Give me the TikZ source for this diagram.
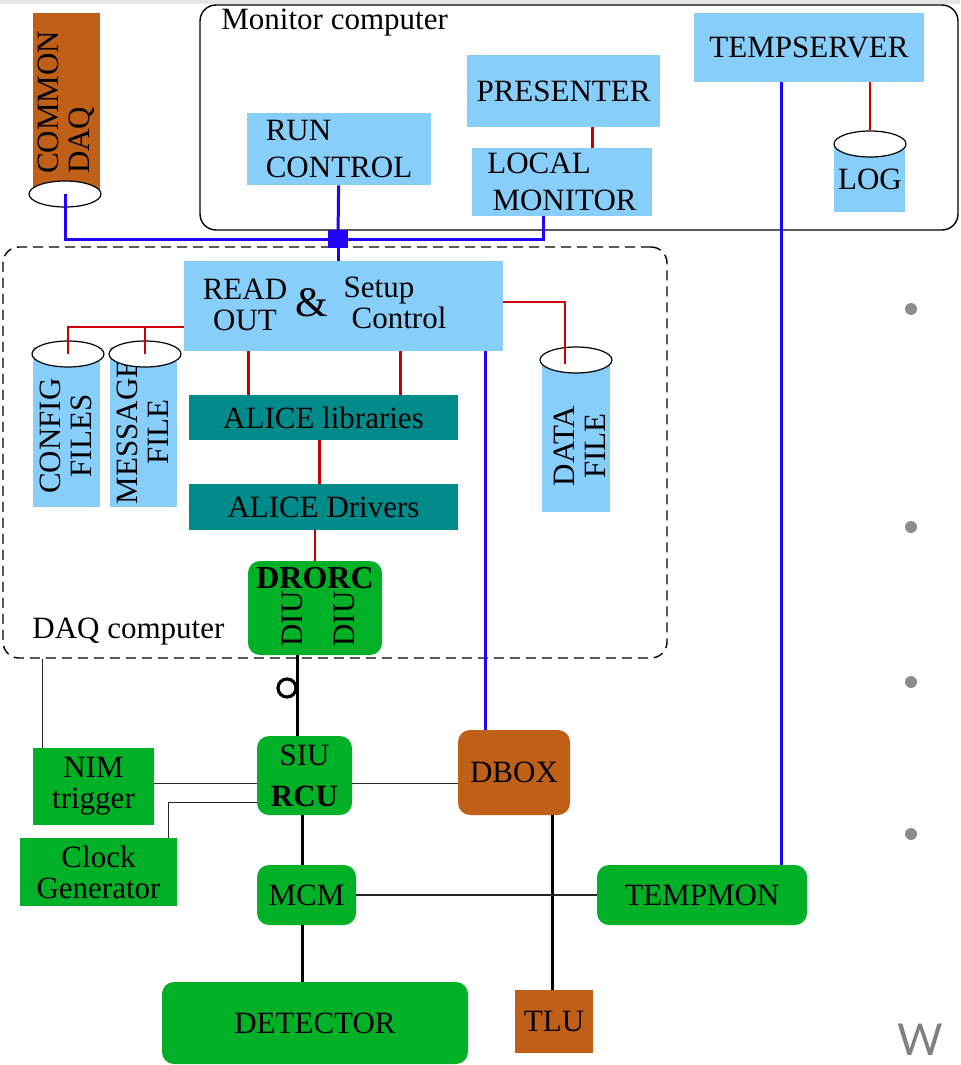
\documentclass[tikz,border=0pt]{standalone}
\usepackage{fontspec}
\setmainfont{Liberation Serif}
\newfontfamily\slidefont{Lato}
\usetikzlibrary{shapes.geometric,calc}
\definecolor{skyblue}{RGB}{135,206,250}
\definecolor{darkteal}{RGB}{0,139,139}
\definecolor{boxgreen}{RGB}{0,176,38}
\definecolor{rust}{RGB}{192,96,24}
\definecolor{linkblue}{RGB}{34,0,255}
\definecolor{linkred}{RGB}{204,0,0}
\begin{document}
\begin{tikzpicture}[x=0.5pt,y=-0.5pt,
  font=\fontsize{15.5}{15.5}\selectfont,
  box/.style={rectangle, inner sep=0pt, align=center},
  sky/.style={box, fill=skyblue},
  alice/.style={box, fill=darkteal},
  hw/.style={box, fill=boxgreen, rounded corners=6pt},
  hwsq/.style={box, fill=boxgreen},
  ext/.style={box, fill=rust},
  disk/.style={ellipse, draw, fill=white, line width=0.6pt, minimum width=36pt, minimum height=13pt, inner sep=0pt},
  frame/.style={draw, line width=0.7pt, rounded corners=8pt, inner sep=0pt},
  bus/.style={linkblue, line width=1.5pt},
  rl/.style={linkred, line width=1.4pt},
  wire/.style={black, line width=1.5pt},
  thinwire/.style={black!85, line width=0.8pt}]
  \useasboundingbox (0,0) rectangle (960,1065);
  \fill[black!10] (0,0) rectangle (960,4);

  % the two computers
  \node[frame, minimum width=379pt, minimum height=112.5pt] (moncomp) at (579,117.5) {};
  \node[box, anchor=west] (monlbl) at (221,23) {Monitor computer};
  \node[frame, dashed, dash pattern=on 5pt off 3pt, minimum width=332pt, minimum height=205.5pt] (daq) at (335,452.5) {};
  \node[box, anchor=west] (daqlbl) at (32,632) {DAQ computer};

  % monitor side
  \node[ext, rotate=90, minimum width=89.5pt, minimum height=33.5pt, align=left] (cdaq) at (66.5,102.5) {COMMON\\DAQ};
  \node[disk] (cdaqcap) at (65,194) {};
  \node[sky, minimum width=92pt, minimum height=36pt, align=left] (run) at (339,149) {RUN\\[3pt]CONTROL};
  \node[sky, minimum width=96.5pt, minimum height=36pt] (pres) at (563.5,91) {PRESENTER};
  \node[sky, minimum width=90pt, minimum height=34pt, align=left] (locmon) at (562,182) {LOCAL\\[3pt]\,MONITOR};
  \node[sky, minimum width=115pt, minimum height=34.5pt] (tserv) at (809,47.5) {TEMPSERVER};
  \node[sky, minimum width=35.5pt, minimum height=33.5pt] (log) at (869.5,178.5) {};
  \node[box] (logtxt) at (870,179) {LOG};
  \node[disk] (logcap) at (870,144) {};

  % DAQ side
  \node[sky, minimum width=159.5pt, minimum height=45pt] (ro) at (343.5,306) {};
  \node[box] (rotxt) at (245,305) {READ\\OUT};
  \node[box, font=\fontsize{21}{21}\selectfont] (amp) at (312,303) {\&};
  \node[box, align=left] (setup) at (395,303) {Setup\\\hspace{4pt}Control};
  \node[sky, minimum width=33.5pt, minimum height=80pt] (cfg) at (66.5,427) {};
  \node[box, rotate=90] (cfgtxt) at (66,436) {CONFIG\\FILES};
  \node[disk] (cfgcap) at (68,354) {};
  \node[sky, minimum width=33.5pt, minimum height=80pt] (msg) at (143.5,427) {};
  \node[box, rotate=90] (msgtxt) at (143,432) {MESSAGE\\FILE};
  \node[disk] (msgcap) at (145,354) {};
  \node[sky, minimum width=34pt, minimum height=76pt] (data) at (576,436) {};
  \node[box, rotate=90] (datatxt) at (580,446) {DATA\\FILE};
  \node[disk] (datacap) at (576,360) {};
  \node[alice, minimum width=134.5pt, minimum height=22.5pt] (alib) at (323.5,417.5) {ALICE libraries};
  \node[alice, minimum width=134.5pt, minimum height=23pt] (adrv) at (323.5,507) {ALICE Drivers};
  \node[hw, minimum width=67pt, minimum height=47pt] (drorc) at (315,608) {};
  \node[box, font=\fontsize{16}{16}\selectfont\bfseries] (drorctxt) at (315,578) {DRORC};
  \node[box, rotate=90] (diua) at (292,619) {DIU};
  \node[box, rotate=90] (diub) at (344,619) {DIU};

  % front end
  \node[hw, minimum width=47.5pt, minimum height=39.5pt] (siu) at (304.5,775.5) {SIU\\[5pt]\textbf{RCU}};
  \node[hwsq, minimum width=60.5pt, minimum height=38.5pt] (nim) at (93.5,786.5) {NIM\\trigger};
  \node[hwsq, minimum width=78.5pt, minimum height=34pt] (clk) at (98.5,872) {Clock\\Generator};
  \node[ext, rounded corners=6pt, minimum width=56pt, minimum height=42.5pt] (dbox) at (514,772.5) {DBOX};
  \node[ext, minimum width=39pt, minimum height=31.5pt] (tlu) at (554,1021.5) {TLU};
  \node[hw, minimum width=49.5pt, minimum height=30pt] (mcm) at (306.5,895) {MCM};
  \node[hw, minimum width=105pt, minimum height=30pt] (tmon) at (702,895) {TEMPMON};
  \node[hw, minimum width=153pt, minimum height=41pt] (det) at (315,1023) {DETECTOR};

  % blue links
  \node[fill=linkblue, inner sep=0pt, minimum width=10pt, minimum height=9pt] (jn) at (338,239) {};
  \draw[bus] (cdaqcap.center) |- (jn);
  \draw[bus] (run) -- (jn);
  \draw[bus] (jn) -| ($(locmon.south)+(-19,0)$);
  \draw[bus] (jn) -- (jn |- ro.north);
  \draw[bus] ($(tserv.south)+(-28,0)$) coordinate (tsl) -- (tsl |- tmon.north);
  \draw[bus] ($(dbox.north)+(-29,0)$) coordinate (dbl) -- (dbl |- ro.south);

  % red links
  \draw[rl] ($(pres.south)+(29,0)$) coordinate (prl) -- (prl |- locmon.north);
  \draw[rl] (logcap |- tserv.south) -- (logcap.north);
  \draw[rl] ($(ro.west)+(0,21)$) coordinate (rofs) -| (cfgcap.center);
  \draw[rl] (rofs) -| (msgcap.center);
  \foreach \dx in {-95,57}
    \draw[rl] ($(ro.south)+(\dx,0)$) coordinate (rot) -- (rot |- alib.north);
  \draw[rl] ($(alib.south)+(-4,0)$) coordinate (alb) -- (alb |- adrv.north);
  \draw[rl] (drorc.north |- adrv.south) -- (drorc.north);
  \draw[rl] ($(ro.east)+(0,-4)$) -| ($(datacap.center)+(-11,4)$);

  % cables
  \draw[wire] ($(drorc.south)+(-18,0)$) coordinate (drl) -- (drl |- siu.north);
  \node[circle, draw, line width=1.6pt, minimum size=9pt, inner sep=0pt] (plug) at (287,688) {};
  \draw[thinwire] ($(nim.north)+(-51,0)$) coordinate (nml) -- (nml |- daq.south);
  \draw[thinwire] ($(nim.east)+(0,-3)$) coordinate (nme) -- (nme -| siu.west);
  \draw[thinwire] ($(siu.west)+(0,27)$) -| ($(clk.north)+(70,0)$);
  \draw[thinwire] ($(siu.east)+(0,8)$) coordinate (sie) -- (sie -| dbox.west);
  \draw[wire] ($(tlu.north)+(-2,0)$) coordinate (tlt) -- (tlt |- dbox.south);
  \draw[wire] ($(siu.south)+(-2,0)$) coordinate (sib) -- (sib |- mcm.north);
  \draw[thinwire] (mcm) -- (tmon);
  \draw[wire] ($(mcm.south)+(-4,0)$) coordinate (mcb) -- (mcb |- det.north);

  % slide leftovers
  \foreach \y in {309,527,682,834}
    \fill[black!45] (911,\y) circle (3pt);
  \node[anchor=base west, inner sep=0pt, text=black!50, font=\slidefont\fontsize{22}{22}\selectfont] (wtxt) at (897,1055) {W};
\end{tikzpicture}
\end{document}
